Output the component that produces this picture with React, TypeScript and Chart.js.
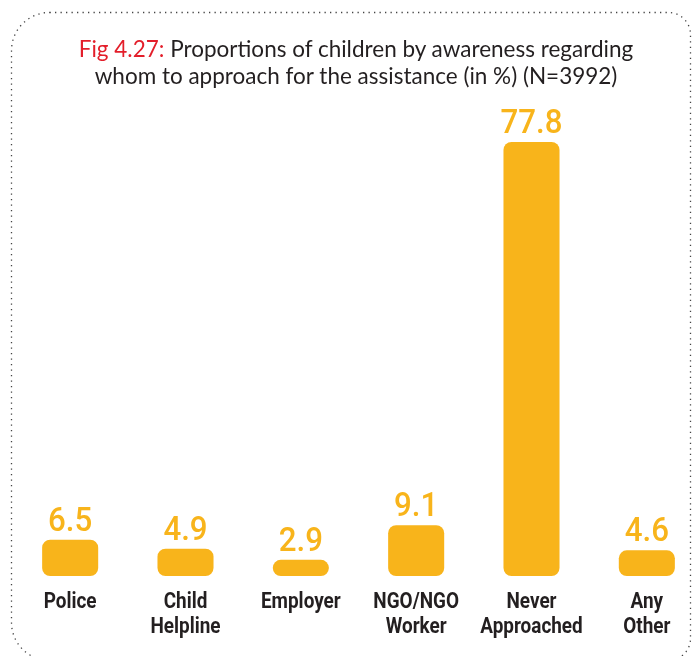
import React, { useEffect, useRef } from "react";
import { Chart, registerables } from "chart.js";

Chart.register(...registerables);

const categoryLines: string[][] = [
  ["Police"],
  ["Child", "Helpline"],
  ["Employer"],
  ["NGO/NGO", "Worker"],
  ["Never", "Approached"],
  ["Any", "Other"],
];
const values: number[] = [6.5, 4.9, 2.9, 9.1, 77.8, 4.6];
const valueLabels: string[] = ["6.5", "4.9", "2.9", "9.1", "77.8", "4.6"];
const titlePrefix = "Fig 4.27:";
const titleLine1 = " Proportions of children by awareness regarding";
const titleLine2 = "whom to approach for the assistance (in %) (N=3992)";

const BAR_COLOR = "#F8B41B";

const borderPlugin = {
  id: "dottedBorder",
  beforeDraw(chart: any) {
    const ctx = chart.ctx;
    ctx.save();
    ctx.setLineDash([1.3, 4.2]);
    ctx.lineWidth = 1.3;
    ctx.strokeStyle = "#444";
    ctx.beginPath();
    (ctx as any).roundRect(11.5, 12.5, 679, 648, [38, 22, 22, 38]);
    ctx.stroke();
    ctx.restore();
  },
};

const valueLabelPlugin = {
  id: "valueLabels",
  afterDatasetsDraw(chart: any) {
    const ctx = chart.ctx;
    const meta = chart.getDatasetMeta(0);
    ctx.save();
    ctx.fillStyle = BAR_COLOR;
    ctx.font = "500 34px Roboto, 'Liberation Sans', sans-serif";
    ctx.textAlign = "center";
    ctx.textBaseline = "alphabetic";
    meta.data.forEach((bar: any, i: number) => {
      ctx.save();
      ctx.translate(bar.x, bar.y - 9);
      ctx.scale(0.92, 1);
      ctx.fillText(valueLabels[i], 0, 0);
      ctx.restore();
    });
    ctx.restore();
  },
};

const categoryLabelPlugin = {
  id: "categoryLabels",
  afterDraw(chart: any) {
    const ctx = chart.ctx;
    const xScale = chart.scales.x;
    const bottom = chart.chartArea.bottom;
    ctx.save();
    ctx.fillStyle = "#231F20";
    ctx.font = "700 22px Roboto, 'Liberation Sans', sans-serif";
    ctx.textAlign = "center";
    ctx.textBaseline = "alphabetic";
    categoryLines.forEach((lines, i) => {
      const x = xScale.getPixelForValue(i);
      lines.forEach((line, j) => {
        ctx.save();
        ctx.translate(x, bottom + 32 + j * 25);
        ctx.scale(0.86, 1);
        ctx.fillText(line, 0, 0);
        ctx.restore();
      });
    });
    ctx.restore();
  },
};

export default function App() {
  const canvasRef = useRef<HTMLCanvasElement | null>(null);

  useEffect(() => {
    if (!canvasRef.current) return;
    const chart = new Chart(canvasRef.current, {
      type: "bar",
      data: {
        labels: categoryLines.map((l) => l.join(" ")),
        datasets: [
          {
            data: values,
            backgroundColor: BAR_COLOR,
            borderRadius: 8,
            borderSkipped: false,
            categoryPercentage: 1,
            barPercentage: 0.486,
          },
        ],
      },
      options: {
        animation: false,
        responsive: true,
        maintainAspectRatio: false,
        layout: { padding: { left: 12.5, right: 11.5, top: 18, bottom: 80 } },
        plugins: {
          legend: { display: false },
          tooltip: { enabled: false },
          title: { display: false },
        },
        scales: {
          x: { display: false, grid: { display: false } },
          y: { display: false, min: 0, max: 100, grid: { display: false } },
        },
      },
      plugins: [borderPlugin, valueLabelPlugin, categoryLabelPlugin],
    });
    return () => chart.destroy();
  }, []);

  return (
    <div
      style={{
        position: "fixed",
        left: 0,
        top: 0,
        width: 692,
        height: 656,
        overflow: "hidden",
        background: "#fff",
      }}
    >
      <div style={{ position: "absolute", left: 0, top: 0, width: 716, height: 656 }}>
        <canvas ref={canvasRef} />
      </div>
      <div
        style={{
          position: "absolute",
          left: 0,
          top: 35,
          width: 712,
          textAlign: "center",
          fontFamily: "Lato, 'Noto Sans', sans-serif",
          fontSize: 22.5,
          lineHeight: "27px",
          color: "#231F20",
          whiteSpace: "nowrap",
        }}
      >
        <div>
          <span style={{ color: "#E31E2A" }}>{titlePrefix}</span>
          {titleLine1}
        </div>
        <div>{titleLine2}</div>
      </div>
    </div>
  );
}
